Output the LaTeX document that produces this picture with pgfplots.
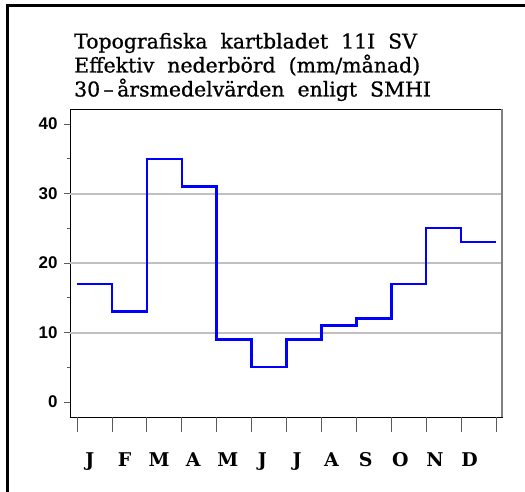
\documentclass[border=0pt]{standalone}
\usepackage{fontspec}
\usepackage{pgfplots}
\pgfplotsset{compat=1.18}
\setmainfont{DejaVu Serif}
\newfontfamily\titlefont[FakeBold=0.8]{DejaVu Serif}
\newfontfamily\ticksans{Liberation Sans}
\definecolor{gridgray}{RGB}{192,192,192}
\definecolor{tickgray}{RGB}{90,90,90}
\begin{document}
\begin{tikzpicture}[x=1bp,y=1bp]
\useasboundingbox (0,0) rectangle (525,-492);
\fill[white] (0,0) rectangle (525,-492);
\draw[line width=3bp] (7,-500) -- (7,-6) -- (530,-6);
\node[anchor=base west,inner sep=0pt,font=\titlefont\fontsize{20.5}{22}\selectfont] at (74,-48.5) {Topografiska\ \ kartbladet\ \ 11I\ \ SV};
\node[anchor=base west,inner sep=0pt,font=\titlefont\fontsize{20.5}{22}\selectfont] at (74,-72.5) {Effektiv\ \ nederbörd\ \ (mm/månad)};
\node[anchor=base west,inner sep=0pt,font=\titlefont\fontsize{20.5}{22}\selectfont] at (74,-96.5) {30\,–\,årsmedelvärden\ \ enligt\ \ SMHI};
\begin{axis}[
  at={(70bp,-417bp)}, anchor=south west,
  scale only axis, width=432bp, height=308bp,
  xmin=-0.2, xmax=12.17, ymin=-2.16, ymax=42.16,
  axis line style={black, line width=0.8bp},
  tick align=outside,
  xtick pos=bottom, ytick pos=left,
  tick style={tickgray, line width=0.8bp},
  major tick length=6bp,
  minor tick length=3bp,
  xtick={0.37,1.36,2.35,3.33,4.32,5.31,6.30,7.29,8.27,9.26,10.25,11.24},
  xticklabels={J,F,M,A,M,J,J,A,S,O,N,D},
  xtick style={draw=none},
  xticklabel style={font=\bfseries\fontsize{19}{19}\selectfont, anchor=base, yshift=-43bp},
  extra x ticks={0,1,...,12},
  extra x tick labels={},
  extra x tick style={major tick length=15bp, xtick style={draw=tickgray, line width=0.8bp}},
  ytick={0,10,20,30,40},
  minor ytick={5,15,25,35},
  yticklabel style={font=\ticksans\bfseries\fontsize{17}{17}\selectfont, /pgf/number format/assume math mode=true, xshift=-3bp},
  extra y ticks={10,20,30},
  extra y tick labels={},
  extra y tick style={grid=major, major grid style={gridgray, line width=2bp}, major tick length=0pt},
  clip=false,
]
\addplot[const plot, blue, line width=2.4bp] coordinates {
(0,17) (1,13) (2,35) (3,31) (4,9) (5,5) (6,9) (7,11) (8,12) (9,17) (10,25) (11,23) (12,23)
};
\draw[gray, line width=1.5bp] (rel axis cs:1,0) -- (rel axis cs:1,1);
\end{axis}
\end{tikzpicture}
\end{document}
